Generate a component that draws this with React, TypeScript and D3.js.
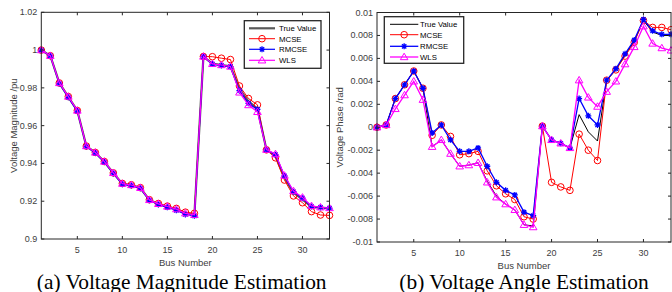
import React from "react";
import * as d3 from "d3";

const buses = d3.range(1, 34);

// Left plot: voltage magnitude (pu)
const magTrue = [1.0, 0.997, 0.9826, 0.9752, 0.9679, 0.9492, 0.9457, 0.9409, 0.9349, 0.9292, 0.9285, 0.9270, 0.9207, 0.9185, 0.9170, 0.9158, 0.9136, 0.9128, 0.9965, 0.9928, 0.9920, 0.9914, 0.9795, 0.9728, 0.9690, 0.9473, 0.9440, 0.9325, 0.9245, 0.9210, 0.9170, 0.9166, 0.9162];
const magMCSE = [1.0, 0.997, 0.9826, 0.9754, 0.9680, 0.9492, 0.9458, 0.9410, 0.9350, 0.9294, 0.9287, 0.9272, 0.9208, 0.9188, 0.9174, 0.9162, 0.9142, 0.9136, 0.9966, 0.9965, 0.9957, 0.9950, 0.9810, 0.9744, 0.9710, 0.9472, 0.9430, 0.9312, 0.9228, 0.9192, 0.9145, 0.9127, 0.9125];
const magRMCSE = [1.0, 0.997, 0.9823, 0.9750, 0.9677, 0.9490, 0.9455, 0.9407, 0.9347, 0.9290, 0.9283, 0.9268, 0.9205, 0.9183, 0.9168, 0.9152, 0.9130, 0.9123, 0.9965, 0.9926, 0.9919, 0.9912, 0.9785, 0.9718, 0.9686, 0.9472, 0.9446, 0.9334, 0.9250, 0.9216, 0.9172, 0.9167, 0.9163];
const magWLS = [1.0, 0.997, 0.9826, 0.9754, 0.9680, 0.9492, 0.9458, 0.9410, 0.9350, 0.9293, 0.9286, 0.9271, 0.9207, 0.9186, 0.9172, 0.9158, 0.9136, 0.9128, 0.9966, 0.9927, 0.9921, 0.9913, 0.9776, 0.9709, 0.9673, 0.9473, 0.9450, 0.9336, 0.9254, 0.9220, 0.9175, 0.9168, 0.9164];

// Right plot: voltage angle (rad)
const angTrue = [0, 0.0002, 0.0025, 0.0037, 0.0049, 0.0034, -0.0017, -0.0011, -0.0023, -0.0034, -0.0033, -0.0031, -0.0047, -0.0060, -0.0067, -0.0072, -0.0085, -0.0086, 0.0001, -0.0011, -0.0014, -0.0018, 0.0011, -0.0004, -0.0012, 0.0041, 0.0050, 0.0063, 0.0075, 0.0093, 0.0083, 0.0080, 0.0080];
const angMCSE = [0, 0.0002, 0.0025, 0.0037, 0.0049, 0.0034, -0.0007, 0.0002, -0.0008, -0.0024, -0.0023, -0.0021, -0.0038, -0.0051, -0.0058, -0.0063, -0.0078, -0.0080, 0.0001, -0.0048, -0.0052, -0.0055, -0.0006, -0.0020, -0.0029, 0.0041, 0.0050, 0.0062, 0.0074, 0.0093, 0.0087, 0.0087, 0.0085];
const angRMCSE = [0, 0.0002, 0.0025, 0.0037, 0.0049, 0.0034, -0.0005, 0.0002, -0.0011, -0.0021, -0.0021, -0.0018, -0.0034, -0.0048, -0.0055, -0.0059, -0.0074, -0.0077, 0.0001, -0.0011, -0.0014, -0.0018, 0.0025, 0.0010, 0.0002, 0.0041, 0.0051, 0.0064, 0.0076, 0.0094, 0.0084, 0.0081, 0.0081];
const angWLS = [0, 0.0002, 0.0016, 0.0028, 0.0040, 0.0024, -0.0017, -0.0011, -0.0023, -0.0034, -0.0033, -0.0031, -0.0048, -0.0061, -0.0067, -0.0072, -0.0085, -0.0087, 0.0001, -0.0011, -0.0014, -0.0018, 0.0041, 0.0026, 0.0018, 0.0031, 0.0040, 0.0055, 0.0070, 0.0088, 0.0073, 0.0069, 0.0067];

const xTicks = [5, 10, 15, 20, 25, 30];
const magTicks = [0.9, 0.92, 0.94, 0.96, 0.98, 1.0, 1.02];
const angTicks = [-0.01, -0.008, -0.006, -0.004, -0.002, 0, 0.002, 0.004, 0.006, 0.008, 0.01];
const legendLabels = ["True Value", "MCSE", "RMCSE", "WLS"];

const AX = "#262626";
const TXT = "#404040";
const SANS = "'Liberation Sans', Arial, sans-serif";
const SERIF = "'Liberation Serif', 'Times New Roman', serif";

function Marker({ kind, x, y, color }: { kind: string; x: number; y: number; color: string }) {
  if (kind === "o") return <circle cx={x} cy={y} r={3.3} fill="none" stroke={color} strokeWidth={1} />;
  if (kind === "*") {
    const s = 3;
    const d = s * 0.72;
    return (
      <path
        d={`M${x - s},${y}H${x + s}M${x},${y - s}V${y + s}M${x - d},${y - d}L${x + d},${y + d}M${x - d},${y + d}L${x + d},${y - d}`}
        stroke={color}
        strokeWidth={1.3}
        fill="none"
      />
    );
  }
  if (kind === "^") {
    const s = 3.8;
    return (
      <path
        d={`M${x},${y - s}L${x + s},${y + s * 0.7}L${x - s},${y + s * 0.7}Z`}
        fill="none"
        stroke={color}
        strokeWidth={1}
      />
    );
  }
  return null;
}

type Series = { values: number[]; color: string; width: number; marker: string };

function Panel(props: {
  x0: number; x1: number; y0: number; y1: number;
  yDomain: [number, number]; yTicks: number[]; yFmt: (v: number) => string;
  series: Series[]; ylabel: string; ylabelX: number;
  xLabY: number; busY: number; title: string; titleX: number;
  legend: { x: number; y: number; w: number; h: number; rows: number[]; lx0: number; lx1: number; tx: number };
  clipId: string;
}) {
  const { x0, x1, y0, y1, yDomain, yTicks, yFmt, series, legend } = props;
  const xs = d3.scaleLinear().domain([1, 33]).range([x0, x1]);
  const ys = d3.scaleLinear().domain(yDomain).range([y1, y0]);
  const line = d3.line<number>().x((_, i) => xs(buses[i])).y((v) => ys(v));
  const tl = 3;
  return (
    <g>
      <defs>
        <clipPath id={props.clipId}>
          <rect x={x0 - 6} y={y0 - 6} width={x1 - x0 + 12} height={y1 - y0 + 12} />
        </clipPath>
      </defs>
      <rect x={x0} y={y0} width={x1 - x0} height={y1 - y0} fill="#fff" />
      <g clipPath={`url(#${props.clipId})`}>
        {series.map((s, k) => (
          <g key={k}>
            <path d={line(s.values) || ""} fill="none" stroke={s.color} strokeWidth={s.width} />
            {s.values.map((v, i) => (
              <Marker key={i} kind={s.marker} x={xs(buses[i])} y={ys(v)} color={s.color} />
            ))}
          </g>
        ))}
      </g>
      {/* axes box */}
      <rect x={x0} y={y0} width={x1 - x0} height={y1 - y0} fill="none" stroke={AX} strokeWidth={1} />
      {xTicks.map((t) => (
        <g key={t}>
          <line x1={xs(t)} x2={xs(t)} y1={y1} y2={y1 - tl} stroke={AX} />
          <line x1={xs(t)} x2={xs(t)} y1={y0} y2={y0 + tl} stroke={AX} />
          <text x={xs(t)} y={props.xLabY} textAnchor="middle" fontSize={9} fontFamily={SANS} fill={TXT}>{t}</text>
        </g>
      ))}
      {yTicks.map((t) => (
        <g key={t}>
          <line x1={x0} x2={x0 + tl} y1={ys(t)} y2={ys(t)} stroke={AX} />
          <line x1={x1} x2={x1 - tl} y1={ys(t)} y2={ys(t)} stroke={AX} />
          <text x={x0 - 4} y={ys(t) + 3} textAnchor="end" fontSize={9} fontFamily={SANS} fill={TXT}>{yFmt(t)}</text>
        </g>
      ))}
      <text x={(x0 + x1) / 2} y={props.busY} textAnchor="middle" fontSize={9.5} fontFamily={SANS} fill={TXT}>Bus Number</text>
      <text
        transform={`translate(${props.ylabelX},${(y0 + y1) / 2}) rotate(-90)`}
        textAnchor="middle" fontSize={9.5} fontFamily={SANS} fill={TXT}
      >{props.ylabel}</text>
      {/* legend */}
      <rect x={legend.x} y={legend.y} width={legend.w} height={legend.h} fill="#fff" stroke={AX} strokeWidth={1.3} />
      {series.map((s, k) => {
        const ry = legend.rows[k];
        return (
          <g key={k}>
            <line x1={legend.lx0} x2={legend.lx1} y1={ry} y2={ry} stroke={s.color} strokeWidth={s.width} />
            <Marker kind={s.marker} x={(legend.lx0 + legend.lx1) / 2} y={ry} color={s.color} />
            <text x={legend.tx} y={ry + 2.8} fontSize={7.8} fontFamily={SANS} fill="#000">{legendLabels[k]}</text>
          </g>
        );
      })}
      <text x={props.titleX} y={288.5} textAnchor="middle" fontSize={21.4} fontFamily={SERIF} fill="#000">{props.title}</text>
    </g>
  );
}

export default function App() {
  const magFmt = (v: number) => (Math.abs(v - 1) < 1e-9 ? "1" : d3.format("")(+v.toFixed(2)));
  const angFmt = (v: number) => (Math.abs(v) < 1e-12 ? "0" : String(+v.toFixed(3)));
  return (
    <svg width={672} height={292} style={{ position: "absolute", left: 0, top: 0, background: "#fff" }}>
      <rect width={672} height={292} fill="#fff" />
      <Panel
        x0={41.3} x1={329.5} y0={12.3} y1={239}
        yDomain={[0.9, 1.02]} yTicks={magTicks} yFmt={magFmt}
        series={[
          { values: magTrue, color: "#595959", width: 2.2, marker: "" },
          { values: magMCSE, color: "#ff0000", width: 1, marker: "o" },
          { values: magRMCSE, color: "#0000ff", width: 1.2, marker: "*" },
          { values: magWLS, color: "#ff00ff", width: 1.2, marker: "^" },
        ]}
        ylabel="Voltage Magnitude /pu" ylabelX={16.5}
        xLabY={252.5} busY={266} title="(a) Voltage Magnitude Estimation" titleX={181.7}
        legend={{ x: 244.3, y: 20.7, w: 76.7, h: 47.6, rows: [28.3, 38.7, 49.3, 60.3], lx0: 249, lx1: 275, tx: 279 }}
        clipId="clipA"
      />
      <Panel
        x0={377} x1={671} y0={12.5} y1={242}
        yDomain={[-0.01, 0.01]} yTicks={angTicks} yFmt={angFmt}
        series={[
          { values: angTrue, color: "#000000", width: 1, marker: "" },
          { values: angMCSE, color: "#ff0000", width: 1, marker: "o" },
          { values: angRMCSE, color: "#0000ff", width: 1.3, marker: "*" },
          { values: angWLS, color: "#ff00ff", width: 1.3, marker: "^" },
        ]}
        ylabel="Voltage Phase /rad" ylabelX={342.5}
        xLabY={256} busY={269} title="(b) Voltage Angle Estimation" titleX={524}
        legend={{ x: 384.3, y: 16.7, w: 79.4, h: 46.6, rows: [24.3, 34.7, 46.3, 57], lx0: 390, lx1: 418.3, tx: 420 }}
        clipId="clipB"
      />
    </svg>
  );
}
